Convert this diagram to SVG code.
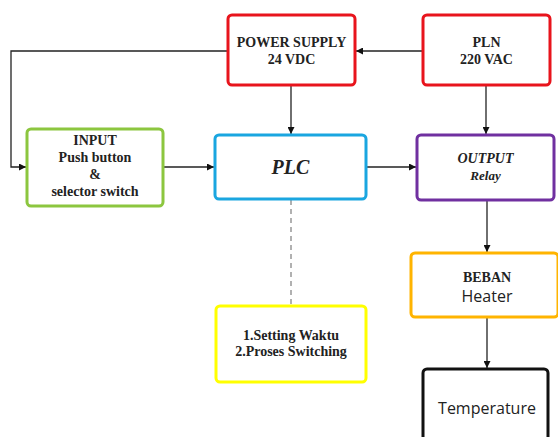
<svg xmlns="http://www.w3.org/2000/svg" width="558" height="437" viewBox="0 0 558 437">
<style>
.box{fill:#fff;stroke-width:3}
.t{font-family:"Liberation Serif",serif;font-weight:bold;font-size:14px;fill:#222;text-anchor:middle}
.s{font-family:"Open Sans","Liberation Sans",sans-serif;font-size:16px;fill:#222;text-anchor:middle}
.c{fill:none;stroke:#222;stroke-width:1.3}
</style>
<defs>
<marker id="a" viewBox="0 0 10 10" refX="10" refY="5" markerWidth="7" markerHeight="7" markerUnits="userSpaceOnUse" orient="auto">
<path d="M0,0 L10,5 L0,10 z" fill="#111"/>
</marker>
</defs>
<rect width="558" height="437" fill="#fff"/>
<g id="connectors">
<path class="c" d="M423,51 H356" marker-end="url(#a)"/>
<path class="c" d="M228,51 H11 V167 H26" marker-end="url(#a)"/>
<path class="c" d="M291,85 V134" marker-end="url(#a)"/>
<path class="c" d="M486,85 V134" marker-end="url(#a)"/>
<path class="c" d="M163,167 H214" marker-end="url(#a)"/>
<path class="c" d="M366,167 H416" marker-end="url(#a)"/>
<path class="c" d="M487,200 V252" marker-end="url(#a)"/>
<path class="c" d="M487,317 V368" marker-end="url(#a)"/>
<path d="M291,200 V305" fill="none" stroke="#888" stroke-width="1.3" stroke-dasharray="5,4"/>
</g>
<g id="power-supply">
<rect class="box" x="228" y="15" width="127" height="70" rx="4" stroke="#e8141c"/>
<text class="t" x="291.5" y="47">POWER SUPPLY</text>
<text class="t" x="291.5" y="64">24 VDC</text>
</g>
<g id="pln">
<rect class="box" x="423" y="15" width="127" height="70" rx="4" stroke="#e8141c"/>
<text class="t" x="486.5" y="47">PLN</text>
<text class="t" x="486.5" y="64">220 VAC</text>
</g>
<g id="input">
<rect class="box" x="27" y="129" width="136" height="77" rx="4" stroke="#8cc63f"/>
<text class="t" x="95" y="145">INPUT</text>
<text class="t" x="95" y="162">Push button</text>
<text class="t" x="95" y="179">&amp;</text>
<text class="t" x="95" y="196">selector switch</text>
</g>
<g id="plc">
<rect class="box" x="215" y="135" width="151" height="64" rx="4" stroke="#1aa6e0"/>
<text class="t" x="290.5" y="174" style="font-size:20px;font-style:italic">PLC</text>
</g>
<g id="output">
<rect class="box" x="417" y="135" width="137" height="65" rx="4" stroke="#7030a0"/>
<text class="t" x="485.5" y="163" style="font-style:italic">OUTPUT</text>
<text class="t" x="485.5" y="180" style="font-style:italic;font-size:13px">Relay</text>
</g>
<g id="setting">
<rect class="box" x="216" y="306" width="150" height="76" rx="4" stroke="#ffff00"/>
<text class="t" x="291" y="340">1.Setting Waktu</text>
<text class="t" x="291" y="356">2.Proses Switching</text>
</g>
<g id="beban">
<rect class="box" x="411" y="253" width="147" height="64" rx="4" stroke="#ffb400"/>
<text class="t" x="487" y="282">BEBAN</text>
<text class="s" x="487" y="302">Heater</text>
</g>
<g id="temperature">
<rect class="box" x="423" y="369" width="125" height="80" rx="4" stroke="#111"/>
<text class="s" x="487" y="414">Temperature</text>
</g>
</svg>
